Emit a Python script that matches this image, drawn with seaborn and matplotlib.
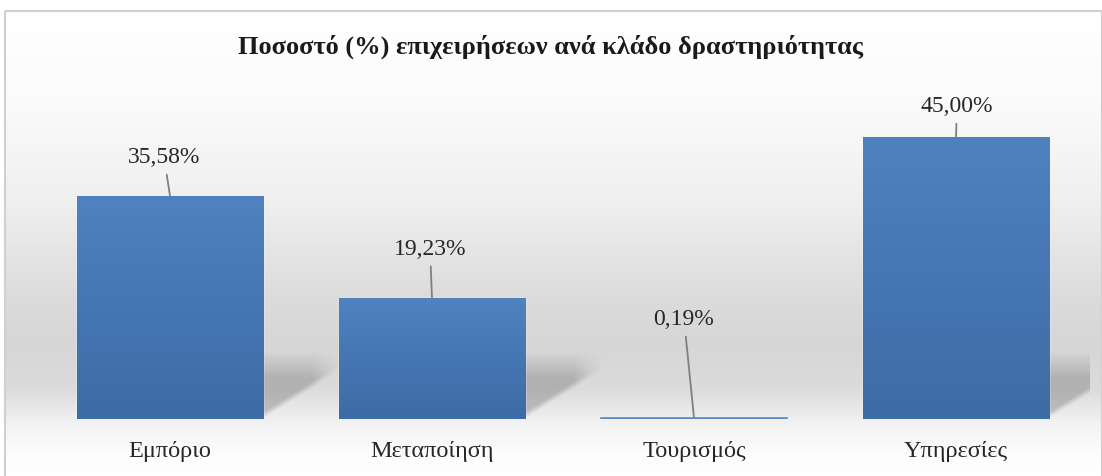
import numpy as np
import pandas as pd
import matplotlib
matplotlib.use('Agg')
import matplotlib.pyplot as plt
import seaborn as sns
from matplotlib.patches import Rectangle

# ─── DATA ─────────────────────────────────────────────────────────────────────
categories = ['Εμπόριο', 'Μεταποίηση', 'Τουρισμός', 'Υπηρεσίες']
shares = [35.58, 19.23, 0.19, 45.00]
value_labels = ['35,58%', '19,23%', '0,19%', '45,00%']
title = 'Ποσοστό (%) επιχειρήσεων ανά κλάδο δραστηριότητας'

df = pd.DataFrame({'sector': categories, 'share': shares})

sns.set_theme(style='white')
plt.rcParams['font.family'] = ['Liberation Serif', 'DejaVu Serif']

W, H = 1102, 477
PX_X = 262.0    # pixels per category step
PX_Y = 6.27     # pixels per percentage point
fig = plt.figure(figsize=(W / 100, H / 100), dpi=100)

# ─── BACKGROUND (chart area gradient + border) ────────────────────────────────
bg = fig.add_axes([0, 0, 1, 1], zorder=0)
bg.set_xlim(0, W)
bg.set_ylim(H, 0)
bg.axis('off')
rows = np.linspace(12, 477, 500)
stops_y = [12, 100, 200, 300, 345, 390, 425, 455, 477]
stops_v = [1.0, 0.985, 0.94, 0.86, 0.84, 0.86, 0.95, 0.99, 1.0]
shade = np.interp(rows, stops_y, stops_v)
img = np.repeat(shade[:, None, None], 3, axis=2).repeat(2, axis=1)
bg.imshow(img, extent=[5, W, 477, 12], aspect='auto', zorder=0)
bg.add_patch(Rectangle((5, 12), W - 5, 477, fill=False, edgecolor='#d0d0d0', lw=1.5, zorder=1))

# ─── BAR CHART ────────────────────────────────────────────────────────────────
ax = fig.add_axes([20 / W, (H - 420) / H, (1090 - 20) / W, (420 - 70) / H], zorder=2)
ax.patch.set_alpha(0)
sns.barplot(data=df, x='sector', y='share', color='#4a7ab5', width=0.71,
            saturation=1, ax=ax, zorder=3)
ax.set_xlim((20 - 170) / PX_X, (1090 - 170) / PX_X)
ax.set_ylim(0, (420 - 70) / PX_Y)
ax.set_xlabel('')
ax.set_ylabel('')
ax.set_yticks([])
ax.tick_params(axis='x', length=0, pad=15, labelsize=17.5, labelcolor='#262626')
for s in ax.spines.values():
    s.set_visible(False)

# vertical gradient fill inside each bar
grad = np.linspace(0, 1, 256).reshape(-1, 1)
top_c = np.array([0.31, 0.51, 0.75])
bot_c = np.array([0.24, 0.42, 0.65])
bar_img = top_c + (bot_c - top_c) * grad[..., None]

# soft perspective shadow (in pixel units, converted to data extent)
sw, sh = 85, 95
u = np.arange(sw)[None, :].astype(float)           # px right of bar edge
yy = np.arange(sh)[:, None].astype(float)          # px above baseline (row 0 = top)
yy = sh - 1 - yy
lower = 0.62 * u
a_low = np.clip((yy - lower) / 7.0, 0, 1)
a_top = np.clip((68 - yy) / 28.0, 0, 1)
a_right = np.clip((78 - u) / 30.0, 0, 1)
alpha = 0.32 * a_low * a_top * a_right
shadow = np.zeros((sh, sw, 4))
shadow[..., :3] = 0.35
shadow[..., 3] = alpha

for p in ax.patches:
    x0, w, h = p.get_x(), p.get_width(), p.get_height()
    if h > 1:
        im = ax.imshow(bar_img, extent=[x0, x0 + w, 0, h], aspect='auto', zorder=4)
        im.set_clip_path(p)
        ax.imshow(shadow, extent=[x0 + w, x0 + w + sw / PX_X, 0, sh / PX_Y],
                  aspect='auto', zorder=2, interpolation='bilinear')
    else:
        p.set_edgecolor('#5b8cc0')
        p.set_linewidth(1.2)

# value labels with leader lines
offsets = [(-6, 39), (-2, 50), (-10, 99), (1, 31)]
for i, (v, lab) in enumerate(zip(shares, value_labels)):
    dx, dy = offsets[i]
    ax.annotate(lab, xy=(i, v), xytext=(dx, dy), textcoords='offset pixels',
                ha='center', va='center', fontsize=17, color='#262626', zorder=6,
                arrowprops=dict(arrowstyle='-', color='#7f7f7f', lw=1.3,
                                shrinkA=3, shrinkB=0))

ax.set_xlim((20 - 170) / PX_X, (1090 - 170) / PX_X)
ax.set_ylim(0, (420 - 70) / PX_Y)

fig.text(0.5, 1 - 47 / H, title, ha='center', va='center', fontsize=19,
         fontweight='bold', color='#1a1a1a')

fig.savefig('out.png', dpi=100)
